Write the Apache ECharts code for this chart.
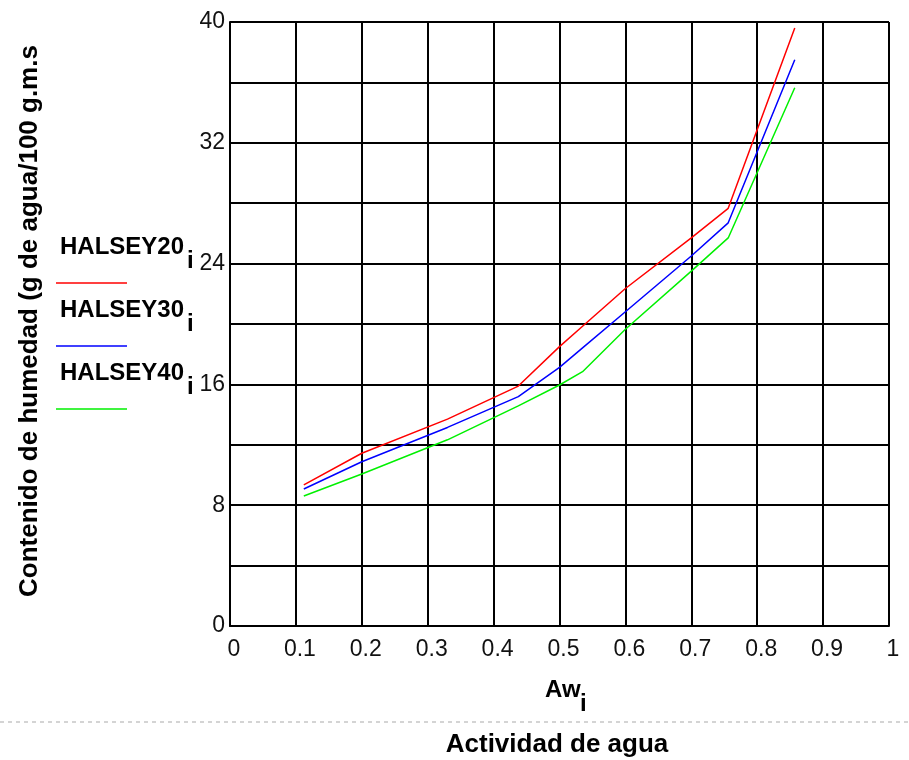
<!DOCTYPE html>
<html>
<head>
<meta charset="utf-8">
<title>Isotermas Halsey</title>
<script src="https://cdn.jsdelivr.net/npm/echarts@6/dist/echarts.min.js"></script>
<style>
  html, body { margin: 0; padding: 0; background: #fff; }
  #chart { width: 909px; height: 760px; }
</style>
</head>
<body>
<div id="chart"></div>
<script>
// actividad de agua (Aw_i) y contenido de humedad
var aw = [0.112, 0.2, 0.33, 0.4375, 0.5, 0.535, 0.6, 0.7, 0.756, 0.857];
var halsey20 = [9.34, 11.44, 13.7, 15.89, 18.5, 19.85, 22.35, 25.7, 27.66, 39.6];
var halsey30 = [9.07, 10.88, 13.15, 15.19, 17.13, 18.42, 20.81, 24.5, 26.7, 37.5];
var halsey40 = [8.61, 10.07, 12.33, 14.58, 15.96, 16.84, 19.65, 23.5, 25.7, 35.65];
var yLabels = [0, 8, 16, 24, 32, 40];

var fontFam = '"Liberation Sans", Arial, sans-serif';

function pairs(vals) {
  return aw.map(function (x, i) { return [x, vals[i]]; });
}

function legendItem(name, color, top) {
  return [
    { type: 'text', left: 60, top: top, style: { text: name, font: 'bold 24px ' + fontFam, fill: '#000' } },
    { type: 'text', left: 187, top: top + 14, style: { text: 'i', font: 'bold 24px ' + fontFam, fill: '#000' } },
    { type: 'line', shape: { x1: 56, y1: top + 48, x2: 127, y2: top + 48 }, style: { stroke: color, lineWidth: 1.5 } }
  ];
}

var chart = echarts.init(document.getElementById('chart'));

var option = {
  animation: false,
  grid: { left: 230, right: 20, top: 22, bottom: 134 },
  xAxis: {
    type: 'value',
    min: 0,
    max: 1,
    interval: 0.1,
    axisLine: { show: true, lineStyle: { color: '#000', width: 2 } },
    axisTick: { show: false },
    splitLine: { show: true, lineStyle: { color: '#000', width: 2 } },
    axisLabel: {
      margin: 12,
      color: '#111',
      fontSize: 23,
      fontFamily: fontFam,
      padding: [0, 0, 0, 8],
      formatter: function (v) { return String(Math.round(v * 10) / 10); }
    }
  },
  yAxis: {
    type: 'value',
    min: 0,
    max: 40,
    interval: 4,
    axisLine: { show: true, lineStyle: { color: '#000', width: 2 } },
    axisTick: { show: false },
    splitLine: { show: true, lineStyle: { color: '#000', width: 2 } },
    axisLabel: {
      margin: 5,
      color: '#111',
      fontSize: 23,
      fontFamily: fontFam,
      padding: [5, 0, 0, 0],
      formatter: function (v) { return yLabels.indexOf(v) >= 0 ? String(v) : ''; }
    }
  },
  series: [
    { name: 'HALSEY20', type: 'line', data: pairs(halsey20), symbol: 'none', lineStyle: { color: '#ff0000', width: 1.5 } },
    { name: 'HALSEY30', type: 'line', data: pairs(halsey30), symbol: 'none', lineStyle: { color: '#0000ff', width: 1.5 } },
    { name: 'HALSEY40', type: 'line', data: pairs(halsey40), symbol: 'none', lineStyle: { color: '#00f000', width: 1.5 } }
  ],
  graphic: [].concat(
    legendItem('HALSEY20', '#ff0000', 235),
    legendItem('HALSEY30', '#0000ff', 298),
    legendItem('HALSEY40', '#00f000', 361),
    [
      {
        type: 'text', x: 30, y: 321, rotation: Math.PI / 2,
        style: { text: 'Contenido de humedad (g de agua/100 g.m.s', font: 'bold 26px ' + fontFam, fill: '#000', textAlign: 'center', textVerticalAlign: 'middle' }
      },
      { type: 'text', left: 545, top: 678, style: { text: 'Aw', font: 'bold 24px ' + fontFam, fill: '#000' } },
      { type: 'text', left: 580, top: 692, style: { text: 'i', font: 'bold 24px ' + fontFam, fill: '#000' } },
      { type: 'line', shape: { x1: 0, y1: 722, x2: 909, y2: 722 }, style: { stroke: '#aaaaaa', lineWidth: 1, lineDash: [4, 4] } },
      {
        type: 'text', x: 557, y: 745,
        style: { text: 'Actividad de agua', font: 'bold 26px ' + fontFam, fill: '#000', textAlign: 'center', textVerticalAlign: 'middle' }
      }
    ]
  )
};

chart.setOption(option);
</script>
</body>
</html>
